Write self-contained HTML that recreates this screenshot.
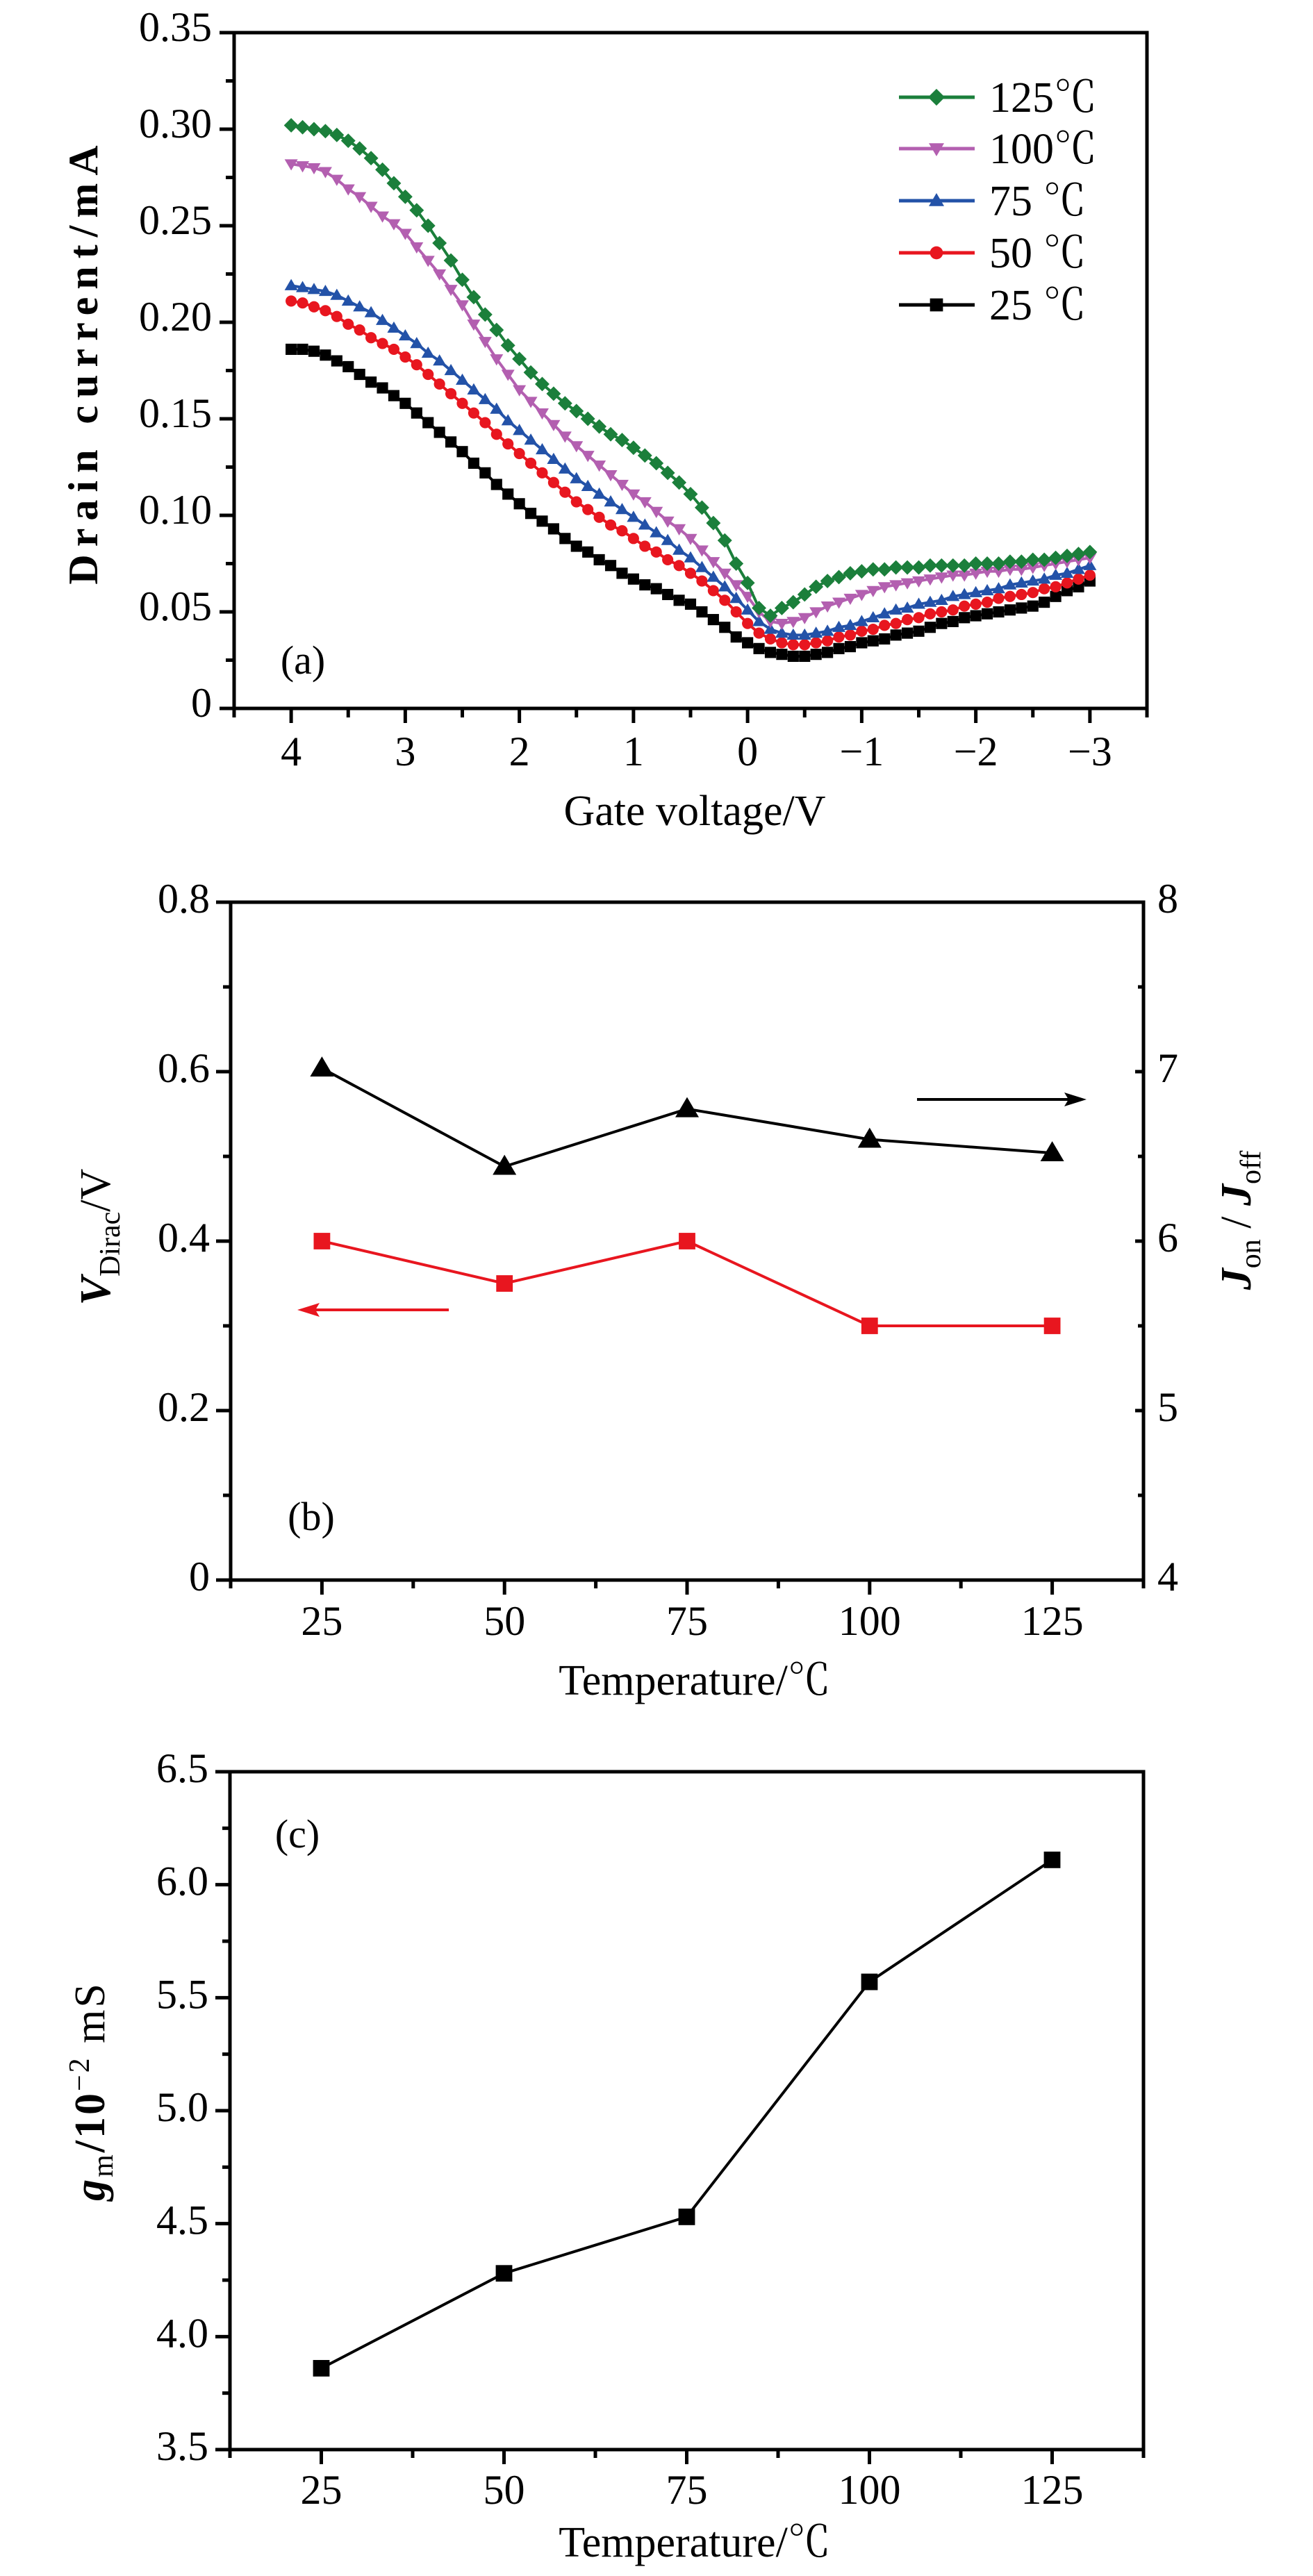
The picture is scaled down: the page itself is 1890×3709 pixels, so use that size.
<!DOCTYPE html>
<html><head><meta charset="utf-8"><title>Temperature-dependent transfer characteristics</title>
<style>
html,body{margin:0;padding:0;background:#fff;}
svg{display:block;}
text{font-family:"Liberation Serif","Noto Serif CJK SC",serif;fill:#000;}
</style></head>
<body>
<svg id="fig" xmlns="http://www.w3.org/2000/svg" width="1890" height="3709" viewBox="0 0 1890 3709">
<rect x="0" y="0" width="1890" height="3709" fill="#fff"/>
<g id="pa"></g>
<g id="pb"></g>
<g id="pc"></g>
</svg>
<script>
// ---------- Panel (a) data ----------
const gateV = [4.0,3.9,3.8,3.7,3.6,3.5,3.4,3.3,3.2,3.1,3.0,2.9,2.8,2.7,2.6,2.5,2.4,2.3,2.2,2.1,2.0,1.9,1.8,1.7,1.6,1.5,1.4,1.3,1.2,1.1,1.0,0.9,0.8,0.7,0.6,0.5,0.4,0.3,0.2,0.1,0.0,-0.1,-0.2,-0.3,-0.4,-0.5,-0.6,-0.7,-0.8,-0.9,-1.0,-1.1,-1.2,-1.3,-1.4,-1.5,-1.6,-1.7,-1.8,-1.9,-2.0,-2.1,-2.2,-2.3,-2.4,-2.5,-2.6,-2.7,-2.8,-2.9,-3.0];
const i125 = [.302,.301,.300,.299,.297,.294,.290,.285,.279,.272,.265,.258,.250,.241,.232,.222,.213,.204,.196,.188,.181,.174,.168,.163,.158,.154,.150,.146,.142,.139,.135,.131,.127,.122,.117,.111,.104,.096,.087,.075,.065,.052,.048,.052,.055,.059,.063,.066,.068,.070,.071,.072,.072,.073,.073,.073,.074,.074,.074,.074,.075,.075,.075,.076,.076,.077,.077,.078,.079,.080,.081];
const i100 = [.282,.281,.280,.278,.274,.269,.265,.260,.255,.251,.246,.239,.232,.225,.217,.209,.199,.190,.181,.173,.165,.159,.153,.147,.141,.136,.131,.126,.121,.116,.111,.107,.102,.097,.093,.088,.082,.076,.070,.064,.058,.050,.045,.044,.045,.047,.050,.053,.055,.057,.059,.061,.063,.064,.065,.066,.067,.068,.069,.069,.070,.071,.071,.072,.072,.073,.074,.075,.076,.077,.078];
const i75 = [.219,.218,.217,.216,.214,.211,.208,.205,.201,.197,.193,.189,.184,.180,.175,.170,.165,.160,.155,.149,.144,.139,.134,.129,.124,.119,.115,.111,.107,.103,.099,.095,.091,.087,.082,.078,.073,.068,.063,.057,.051,.045,.041,.039,.038,.038,.039,.040,.042,.043,.045,.047,.049,.051,.052,.054,.055,.056,.058,.059,.060,.061,.062,.064,.065,.066,.067,.069,.070,.072,.074];
const i50 = [.211,.210,.208,.206,.203,.199,.196,.192,.189,.186,.182,.178,.173,.168,.163,.158,.153,.148,.142,.137,.132,.127,.122,.117,.112,.107,.103,.099,.095,.092,.088,.084,.081,.077,.074,.070,.066,.061,.056,.050,.044,.039,.036,.034,.033,.033,.034,.035,.037,.038,.040,.041,.043,.044,.046,.047,.049,.050,.051,.053,.054,.055,.057,.058,.059,.060,.062,.063,.065,.067,.069];
const i25 = [.186,.186,.185,.183,.180,.177,.173,.169,.166,.162,.158,.153,.148,.143,.138,.133,.127,.122,.116,.111,.106,.101,.097,.093,.088,.084,.081,.077,.074,.070,.067,.064,.062,.059,.056,.054,.050,.046,.042,.037,.034,.031,.029,.028,.027,.027,.028,.029,.031,.032,.034,.035,.036,.038,.039,.040,.042,.044,.045,.047,.048,.049,.050,.051,.052,.053,.055,.058,.061,.063,.066];
const aXTicks = [4,3,2,1,0,-1,-2,-3];
const aXTickLabels = ["4","3","2","1","0","\u22121","\u22122","\u22123"];
const aYTicks = [0,0.05,0.10,0.15,0.20,0.25,0.30,0.35];
const aYTickLabels = ["0","0.05","0.10","0.15","0.20","0.25","0.30","0.35"];
const legendLabels = ["125\u2103","100\u2103","75 \u2103","50 \u2103","25 \u2103"];

// ---------- Panel (b) data ----------
const tempsB = [25,50,75,100,125];
const vDirac = [0.40,0.35,0.40,0.30,0.30];
const onOff = [7.02,6.44,6.78,6.60,6.52];
const bXTicks = [25,50,75,100,125];
const bXTickLabels = ["25","50","75","100","125"];
const bYLTicks = [0,0.2,0.4,0.6,0.8];
const bYLTickLabels = ["0","0.2","0.4","0.6","0.8"];
const bYRTicks = [4,5,6,7,8];
const bYRTickLabels = ["4","5","6","7","8"];

// ---------- Panel (c) data ----------
const tempsC = [25,50,75,100,125];
const gm = [3.86,4.28,4.53,5.57,6.11];
const cYTicks = [3.5,4.0,4.5,5.0,5.5,6.0,6.5];
const cYTickLabels = ["3.5","4.0","4.5","5.0","5.5","6.0","6.5"];

const NS = "http://www.w3.org/2000/svg";
function mk(tag, attrs, parent){
  const e = document.createElementNS(NS, tag);
  for (const k in attrs) e.setAttribute(k, attrs[k]);
  parent.appendChild(e);
  return e;
}
function txt(parent, x, y, s, size, anchor){
  const t = mk('text', {x:x, y:y, 'font-size':size, 'text-anchor':anchor||'middle'}, parent);
  t.textContent = s;
  return t;
}
function marker(parent, shape, cx, cy, r, color){
  let e;
  if (shape === 'diamond') e = mk('polygon', {points:`${cx},${cy-r*1.1} ${cx+r*1.1},${cy} ${cx},${cy+r*1.1} ${cx-r*1.1},${cy}`, fill:color}, parent);
  else if (shape === 'down') e = mk('polygon', {points:`${cx-r},${cy-r*0.7} ${cx+r},${cy-r*0.7} ${cx},${cy+r}`, fill:color}, parent);
  else if (shape === 'up') e = mk('polygon', {points:`${cx-r},${cy+r*0.7} ${cx+r},${cy+r*0.7} ${cx},${cy-r}`, fill:color}, parent);
  else if (shape === 'circle') e = mk('circle', {cx:cx, cy:cy, r:r*0.85, fill:color}, parent);
  else e = mk('rect', {x:cx-r*0.85, y:cy-r*0.85, width:r*1.7, height:r*1.7, fill:color}, parent);
  return e;
}

// ================= Panel (a) =================
(function(){
  const g = document.getElementById('pa');
  const L=337, R=1651, T=47, B=1020;
  const xA = v => L + (4.5 - v) * (R - L) / 8;
  const yA = c => B - c / 0.35 * (B - T);
  for (let k=0;k<=16;k++){
    const v = 4.5 - k*0.5;
    const major = Math.abs(v - Math.round(v)) < 1e-9;
    const tk = mk('line', {x1:xA(v), y1:B, x2:xA(v), y2:B+(major?21:13), stroke:'#000','stroke-width':5}, g);
    
    
  }
  for (let k=0;k<=14;k++){
    const c = k*0.025;
    const major = k%2===0;
    const tk = mk('line', {x1:L, y1:yA(c), x2:L-(major?21:12), y2:yA(c), stroke:'#000','stroke-width':5}, g);
    
    
  }
  aXTicks.forEach((v,i)=>{
    const t = txt(g, xA(v), 1102, aXTickLabels[i], 60);
    
    
  });
  aYTicks.forEach((c,i)=>{
    const t = txt(g, 305, yA(c)+12, aYTickLabels[i], 60, 'end');
    
    
  });
  const series = [
    {d:i125, color:'#1b7f3b', shape:'diamond', name:'series-125c'},
    {d:i100, color:'#b35fb0', shape:'down', name:'series-100c'},
    {d:i75, color:'#2352a8', shape:'up', name:'series-75c'},
    {d:i50, color:'#e8161f', shape:'circle', name:'series-50c'},
    {d:i25, color:'#000000', shape:'square', name:'series-25c'}
  ];
  series.slice().reverse().forEach(s=>{
    const sg = mk('g', {}, g);
    
    
    const pts = gateV.map((v,i)=>xA(v).toFixed(1)+','+yA(s.d[i]).toFixed(1)).join(' ');
    const pl = mk('polyline', {points:pts, fill:'none', stroke:s.color, 'stroke-width':4}, sg);
    
    
    gateV.forEach((v,i)=>{
      const m = marker(sg, s.shape, xA(v), yA(s.d[i]), 9.5, s.color);
      
      
    });
  });
  const fr = mk('rect', {x:L, y:T, width:R-L, height:B-T, fill:'none', stroke:'#000', 'stroke-width':5}, g);
  
  
  const lg = mk('g', {}, g);
  
  
  const ly = [140,214,289,364,439];
  series.forEach((s,i)=>{
    const eg = mk('g', {}, lg);
    
    
    mk('line', {x1:1294, y1:ly[i], x2:1403, y2:ly[i], stroke:s.color, 'stroke-width':5}, eg);
    marker(eg, s.shape, 1348, ly[i], 11, s.color);
    txt(eg, 1424, ly[i]+21, legendLabels[i], 62, 'start');
  });
  const pl = txt(g, 436, 970, '(a)', 58);
  
  
  const xt = txt(g, 1000, 1188, 'Gate voltage/V', 62);
  
  
  const yt = txt(g, 0, 0, 'Drain current/mA', 60);
  yt.setAttribute('transform', 'translate(140,520) rotate(-90)');
  yt.setAttribute('font-weight', 'bold');
  yt.setAttribute('letter-spacing', '11');
  
  
})();

// ================= Panel (b) =================
(function(){
  const g = document.getElementById('pb');
  const L=332, R=1646, T=1299, B=2275;
  const xB = t => L + (t - 12.5) * (R - L) / 125;
  const yL = v => B - v / 0.8 * (B - T);
  const yR = j => B - (j - 4) / 4 * (B - T);
  for (let k=0;k<=10;k++){
    const t = 12.5 + k*12.5;
    const major = k%2===1;
    const tk = mk('line', {x1:xB(t), y1:B, x2:xB(t), y2:B+(major?21:12), stroke:'#000','stroke-width':5}, g);
    
    
  }
  for (let k=0;k<=8;k++){
    const v = k*0.1;
    const major = k%2===0;
    const tk = mk('line', {x1:L, y1:yL(v), x2:L-(major?21:11), y2:yL(v), stroke:'#000','stroke-width':5}, g);
    
    
    const tr = mk('line', {x1:R, y1:yL(v), x2:R-(major?12:8), y2:yL(v), stroke:'#000','stroke-width':5}, g);
    
    
  }
  bXTicks.forEach((t,i)=>{
    const e = txt(g, xB(t), 2354, bXTickLabels[i], 60);
    
    
  });
  bYLTicks.forEach((v,i)=>{
    const e = txt(g, 302, yL(v)+15, bYLTickLabels[i], 60, 'end');
    
    
  });
  bYRTicks.forEach((j,i)=>{
    const e = txt(g, 1666, yR(j)+15, bYRTickLabels[i], 60, 'start');
    
    
  });
  const sb = mk('g', {}, g);
  
  
  const lb = mk('polyline', {points:tempsB.map((t,i)=>xB(t)+','+yR(onOff[i])).join(' '), fill:'none', stroke:'#000','stroke-width':4}, sb);
  
  
  tempsB.forEach((t,i)=>{
    const m = marker(sb, 'up', xB(t), yR(onOff[i]), 17, '#000');
    
    
  });
  const sr = mk('g', {}, g);
  
  
  const lr = mk('polyline', {points:tempsB.map((t,i)=>xB(t)+','+yL(vDirac[i])).join(' '), fill:'none', stroke:'#e8161f','stroke-width':4}, sr);
  
  
  tempsB.forEach((t,i)=>{
    const m = marker(sr, 'square', xB(t), yL(vDirac[i]), 14, '#e8161f');
    
    
  });
  const ab = mk('g', {}, g);
  
  
  mk('line', {x1:1320, y1:1583, x2:1540, y2:1583, stroke:'#000','stroke-width':4}, ab);
  mk('polygon', {points:'1564,1583 1532,1573 1538,1583 1532,1593', fill:'#000'}, ab);
  const ar = mk('g', {}, g);
  
  
  mk('line', {x1:646, y1:1886, x2:450, y2:1886, stroke:'#e8161f','stroke-width':4}, ar);
  mk('polygon', {points:'428,1886 460,1876 454,1886 460,1896', fill:'#e8161f'}, ar);
  const fr = mk('rect', {x:L, y:T, width:R-L, height:B-T, fill:'none', stroke:'#000','stroke-width':5}, g);
  
  
  const pl = txt(g, 448, 2203, '(b)', 58);
  
  
  const xt = txt(g, 1000, 2440, 'Temperature/\u2103', 62);
  
  
  const yt = mk('text', {transform:'translate(158,1781) rotate(-90)', 'font-size':62, 'text-anchor':'middle'}, g);
  yt.innerHTML = '<tspan font-style="italic" font-weight="bold">V</tspan><tspan font-size="42" dy="14">Dirac</tspan><tspan dy="-14">/V</tspan>';
  
  
  const yr = mk('text', {transform:'translate(1800,1757) rotate(-90)', 'font-size':62, 'text-anchor':'middle'}, g);
  yr.innerHTML = '<tspan font-style="italic" font-weight="bold">J</tspan><tspan font-size="42" dy="14">on</tspan><tspan dy="-14"> / </tspan><tspan font-style="italic" font-weight="bold">J</tspan><tspan font-size="42" dy="14">off</tspan>';
  
  
})();

// ================= Panel (c) =================
(function(){
  const g = document.getElementById('pc');
  const L=331, R=1646, T=2551, B=3527;
  const xC = t => L + (t - 12.5) * (R - L) / 125;
  const yC = v => B - (v - 3.5) / 3 * (B - T);
  for (let k=0;k<=10;k++){
    const t = 12.5 + k*12.5;
    const major = k%2===1;
    const tk = mk('line', {x1:xC(t), y1:B, x2:xC(t), y2:B+(major?21:12), stroke:'#000','stroke-width':5}, g);
    
    
  }
  for (let k=0;k<=12;k++){
    const v = 3.5 + k*0.25;
    const major = k%2===0;
    const tk = mk('line', {x1:L, y1:yC(v), x2:L-(major?21:11), y2:yC(v), stroke:'#000','stroke-width':5}, g);
    
    
  }
  bXTicks.forEach((t,i)=>{
    const e = txt(g, xC(t), 3605, bXTickLabels[i], 60);
    
    
  });
  cYTicks.forEach((v,i)=>{
    const e = txt(g, 300, yC(v)+15, cYTickLabels[i], 60, 'end');
    
    
  });
  const sg = mk('g', {}, g);
  
  
  const ln = mk('polyline', {points:tempsC.map((t,i)=>xC(t)+','+yC(gm[i])).join(' '), fill:'none', stroke:'#000','stroke-width':4}, sg);
  
  
  tempsC.forEach((t,i)=>{
    const m = marker(sg, 'square', xC(t), yC(gm[i]), 14, '#000');
    
    
  });
  const fr = mk('rect', {x:L, y:T, width:R-L, height:B-T, fill:'none', stroke:'#000','stroke-width':5}, g);
  
  
  const pl = txt(g, 428, 2660, '(c)', 58);
  
  
  const xt = txt(g, 1000, 3681, 'Temperature/\u2103', 62);
  
  
  const yt = mk('text', {transform:'translate(150,3011) rotate(-90)', 'font-size':62, 'text-anchor':'middle', 'letter-spacing':'3'}, g);
  yt.innerHTML = '<tspan font-style="italic" font-weight="bold">g</tspan><tspan font-size="42" dy="12">m</tspan><tspan dy="-12" font-weight="bold">/10</tspan><tspan font-size="42" dy="-22">\u22122</tspan><tspan dy="22"> mS</tspan>';
  
  
})();
</script>
</body></html>
